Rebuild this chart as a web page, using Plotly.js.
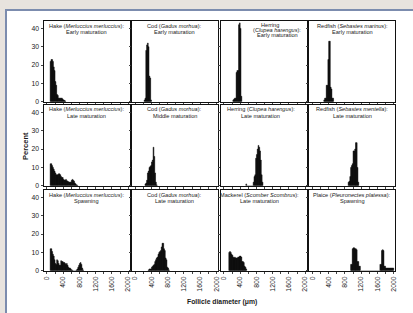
<!DOCTYPE html>
<html>
<head>
<meta charset="utf-8">
<script src="https://cdn.plot.ly/plotly-3.0.1.min.js"></script>
<style>html,body{margin:0;padding:0;background:#e8e3de;}#chart{width:413px;height:313px;}</style>
</head>
<body>
<div id="chart"></div>
<script>
// ---- data (follicle diameter in µm, percent) ----
const hakeEarlyX = [90,110,130,150,170,190,210,230,250,270,290,310,330,350,370,390,410,430,450];
const hakeEarlyY = [22,23,23,22,19,17,11,9,4,3.5,2,2,2,2,2,1.5,1,0.8,0.5];

const codEarlyX = [230,250,270,290,310,330,350,370,390];
const codEarlyY = [1,2,28,31,32,30,14,13,1];

const herringEarlyX = [230,250,270,290,310,330,350,370,390,410,430];
const herringEarlyY = [1,1.5,2,2,16,17,17,42,43,40,3];

const redfishEarlyX = [290,310,330,350,370,390,410,430,450,470,490,510];
const redfishEarlyY = [1,2,2,9,9,23,33,33,8,7,2,2];

const hakeLateX = [90,110,130,150,170,190,210,230,250,270,290,310,330,350,370,390,410,430,450,470,490,510,530,550,570,590,610,630,650,670,690,710,730,750];
const hakeLateY = [12,12,11,10,9,8,7,6,6,6,6.5,6.5,6,5,4.5,4.5,3.5,3.2,3,3.5,2.8,2.5,2.2,2,2,2,3,3.5,3,2.5,1.5,1,0.5,0.3];

const codMidX = [250,270,290,310,330,350,370,390,410,430,450,470,490,510,530];
const codMidY = [1,1.5,3,7,8,10,10.5,11,13,14,21,16,7,2,0.5];

const herringLateX = [550,730,750,770,790,810,830,850,870,890,910,930,950];
const herringLateY = [1,2,5,6,15,17,20,22,21,19,14,6,2];

const redfishLateX = [890,910,930,950,970,990,1010,1030,1050,1070,1090,1110,1130];
const redfishLateY = [2,2.5,5,10,11,12,19,19,20,23.5,23.5,10,2];

const hakeSpawnX = [90,110,130,150,170,190,210,230,250,270,290,310,330,350,370,390,410,430,450,470,490,510,530,550,570,590,610,630,730,750,770,790,810,830,850,870,890];
const hakeSpawnY = [12,12,10.5,9,8,6,4,3.5,6,5.5,4,3,3,5.5,5,5,4.5,4.5,4,3.5,4,3,2,1.5,1.5,1,0.5,0.3,0.5,1,2,3,4,4.5,3.5,1.5,0.5];

const codLateX = [330,350,370,390,410,430,450,470,490,510,530,550,570,590,610,630,650,670,690,710,730,750,770,790,810,830];
const codLateY = [0.5,1,1,1,2,2.5,3,3.5,5,6,7,7.5,9,10,10.5,11,13,15,15,12,11,7,6,2,1.5,0.5];

const mackerelX = [130,150,170,190,210,230,250,270,290,310,330,350,370,390,410,430,450,470,490,510,530,550];
const mackerelY = [10,10.5,10,9,8.5,7.5,7,7.5,7,7,7,7.5,7.5,8,8,7.5,5,5,4.5,2.5,2,1];

const plaiceX = [950,970,990,1010,1030,1050,1070,1090,1110,1130,1150,1170,1670,1690,1710,1730,1750,1770,1790,1810,1830,1850,1870,1890,1910,1930,1950,1970,1990];
const plaiceY = [3.5,3.5,12,12.5,12.5,12,12,11.5,5,5,2.5,2.5,3.5,3.5,11,11.5,11,2.5,2.5,1.5,1.5,1.5,1.5,1.5,1.5,1.5,1.5,1.5,1.5];

const panelTitles = [
  ['Hake (<i>Merluccius merluccius</i>):', 'Early maturation'],
  ['Cod (<i>Gadus morhua</i>):', 'Early maturation'],
  ['Herring', '(<i>Clupea harengus</i>):', 'Early maturation'],
  ['Redfish (<i>Sebastes marinus</i>):', 'Early maturation'],
  ['Hake (<i>Merluccius merluccius</i>):', 'Late maturation'],
  ['Cod (<i>Gadus morhua</i>):', 'Middle maturation'],
  ['Herring (<i>Clupea harengus</i>):', 'Late maturation'],
  ['Redfish (<i>Sebastes mentella</i>):', 'Late maturation'],
  ['Hake (<i>Merluccius merluccius</i>):', 'Spawning'],
  ['Cod (<i>Gadus morhua</i>):', 'Late maturation'],
  ['Mackerel (<i>Scomber Scombrus</i>):', 'Late maturation'],
  ['Plaice (<i>Pleuronectes platessa</i>):', 'Spawning']
];
const yTickVals = [0,10,20,30,40];
const xTickVals = [0,400,800,1200,1600,2000];
const xTitle = 'Follicle diameter (μm)';
const yTitle = 'Percent';
const binWidth = 20;

const series = [
  [hakeEarlyX, hakeEarlyY],[codEarlyX, codEarlyY],[herringEarlyX, herringEarlyY],[redfishEarlyX, redfishEarlyY],
  [hakeLateX, hakeLateY],[codMidX, codMidY],[herringLateX, herringLateY],[redfishLateX, redfishLateY],
  [hakeSpawnX, hakeSpawnY],[codLateX, codLateY],[mackerelX, mackerelY],[plaiceX, plaiceY]
];

// histogram outline as one filled path (bins drawn edge to edge, no seams)
function histPath(xs, ys) {
  const X = [], Y = [];
  xs.forEach((x, k) => {
    const a = x - binWidth / 2, b = x + binWidth / 2;
    X.push(a, a, b, b); Y.push(0, ys[k], ys[k], 0);
  });
  return {X, Y};
}

// ---- layout geometry (pixels) ----
const W = 413, H = 313;
const colLeft = [43.5, 131.8, 220.5, 309];
const colW = 86;
const rowTop = [20.5, 104.5, 189.5];
const rowH = 81.3;
const px = v => v / W;
const py = v => 1 - v / H;
const FONT = 'Liberation Sans, Arial, sans-serif';

const traces = [];
const layout = {
  width: W, height: H,
  margin: {l:0, r:0, t:0, b:0},
  paper_bgcolor: '#e8e3de',
  plot_bgcolor: '#ffffff',
  showlegend: false,
  hovermode: false,
  font: {family: FONT, color: '#1a1a1a'},
  annotations: [],
  shapes: [{
    type: 'rect', xref: 'paper', yref: 'paper',
    x0: px(6), x1: 1.1, y0: -0.1, y1: py(10),
    fillcolor: '#ffffff', line: {color: '#7c8cae', width: 2}, layer: 'below'
  }]
};

series.forEach((s, i) => {
  const r = Math.floor(i / 4), c = i % 4;
  const n = i + 1;
  const xa = 'xaxis' + (n === 1 ? '' : n), ya = 'yaxis' + (n === 1 ? '' : n);
  const xr = 'x' + (n === 1 ? '' : n), yr = 'y' + (n === 1 ? '' : n);
  const p = histPath(s[0], s[1]);
  traces.push({
    type: 'scatter', mode: 'lines', x: p.X, y: p.Y,
    fill: 'toself', fillcolor: '#111111',
    line: {color: '#111111', width: 0.5},
    xaxis: xr, yaxis: yr, hoverinfo: 'skip', cliponaxis: true
  });
  const L = colLeft[c], T = rowTop[r];
  layout[xa] = {
    domain: [px(L), px(L + colW)], anchor: yr,
    range: [-84, 2032], showgrid: false, zeroline: false,
    showline: true, mirror: true, linecolor: '#111', linewidth: 1,
    tickvals: xTickVals, ticks: 'outside', ticklen: 2, tickwidth: 1, tickcolor: '#444',
    minor: {dtick: 200, tick0: 0, ticks: 'outside', ticklen: 2, tickcolor: '#444', showgrid: false},
    showticklabels: r === 2, tickangle: -90,
    tickfont: {size: 6.8, color: '#1a1a1a', family: FONT}
  };
  layout[ya] = {
    domain: [py(T + rowH), py(T)], anchor: xr,
    range: [0, 44.3], showgrid: false, zeroline: false,
    showline: true, mirror: true, linecolor: '#111', linewidth: 1,
    tickvals: yTickVals, ticks: 'outside', ticklen: 2, tickwidth: 1, tickcolor: '#444',
    showticklabels: c === 0,
    tickfont: {size: 6.8, color: '#1a1a1a', family: FONT}
  };
  const lines = panelTitles[i];
  if (lines.length === 3) {
    const cx = [270, 277, 277], dy = [4.3, 9.3, 14.3];
    lines.forEach((t, k) => layout.annotations.push({
      xref: 'paper', yref: 'paper', x: px(cx[k]), y: py(T + dy[k]),
      xanchor: 'center', yanchor: 'middle', showarrow: false, text: t,
      font: {size: 5.6, color: '#1a1a1a', family: FONT}
    }));
  } else {
    const cx = L + colW / 2 + (i === 10 ? -4 : (i === 6 ? -3 : 0));
    lines.forEach((t, k) => layout.annotations.push({
      xref: 'paper', yref: 'paper', x: px(cx), y: py(T + 5 + k * 6.6),
      xanchor: 'center', yanchor: 'middle', showarrow: false, text: t,
      font: {size: 5.6, color: '#1a1a1a', family: FONT}
    }));
  }
});

layout.annotations.push({
  xref: 'paper', yref: 'paper', x: px(222), y: py(302),
  xanchor: 'center', yanchor: 'middle', showarrow: false,
  text: '<b>' + xTitle + '</b>', font: {size: 6.8, color: '#1a1a1a', family: FONT}
});
layout.annotations.push({
  xref: 'paper', yref: 'paper', x: px(25), y: py(146),
  xanchor: 'center', yanchor: 'middle', showarrow: false, textangle: -90,
  text: '<b>' + yTitle + '</b>', font: {size: 7.5, color: '#1a1a1a', family: FONT}
});

Plotly.newPlot('chart', traces, layout, {staticPlot: true, displayModeBar: false});
</script>
</body>
</html>
